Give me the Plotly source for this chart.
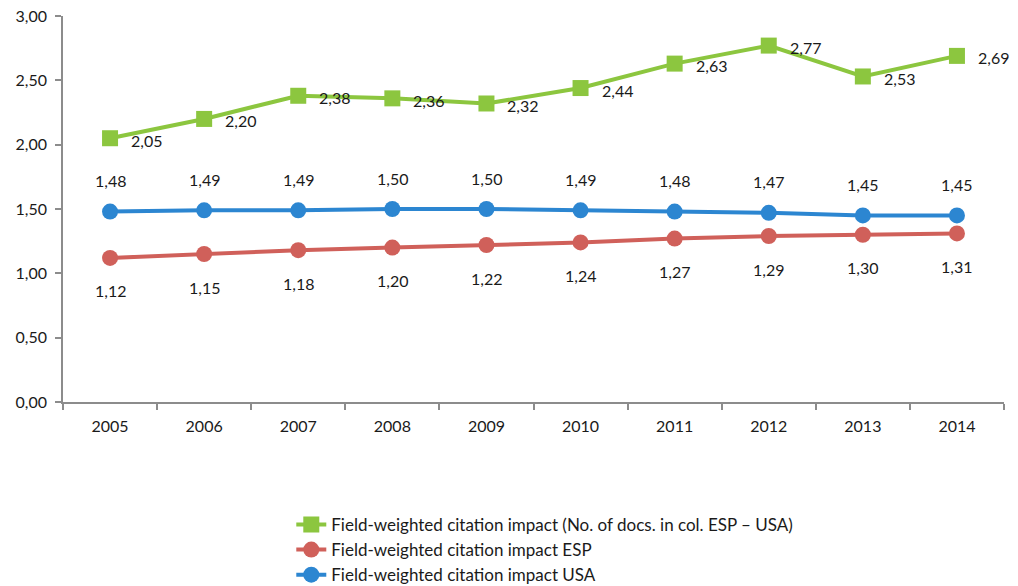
import plotly.graph_objects as go

years = ["2005", "2006", "2007", "2008", "2009", "2010", "2011", "2012", "2013", "2014"]
fwci_ratio = [2.05, 2.20, 2.38, 2.36, 2.32, 2.44, 2.63, 2.77, 2.53, 2.69]
fwci_esp = [1.12, 1.15, 1.18, 1.20, 1.22, 1.24, 1.27, 1.29, 1.30, 1.31]
fwci_usa = [1.48, 1.49, 1.49, 1.50, 1.50, 1.49, 1.48, 1.47, 1.45, 1.45]

names = [
    "Field-weighted citation impact (No. of docs. in col. ESP \u2013 USA)",
    "Field-weighted citation impact ESP",
    "Field-weighted citation impact USA",
]

GREEN = "#8cc63f"
RED = "#d0605a"
BLUE = "#2c86d1"
FONT = "Lato"
TEXT = "#1a1a1a"


def fmt(v):
    return f"{v:.2f}".replace(".", ",")


fig = go.Figure()
fig.add_trace(go.Scatter(
    x=years, y=fwci_ratio, name=names[0], mode="lines+markers",
    line=dict(color=GREEN, width=4),
    marker=dict(symbol="square", size=16, color=GREEN),
    legendgroup="a",
))
fig.add_trace(go.Scatter(
    x=years, y=fwci_esp, name=names[1], mode="lines+markers",
    line=dict(color=RED, width=4),
    marker=dict(symbol="circle", size=16, color=RED),
    legendgroup="b",
))
fig.add_trace(go.Scatter(
    x=years, y=fwci_usa, name=names[2], mode="lines+markers",
    line=dict(color=BLUE, width=4),
    marker=dict(symbol="circle", size=16, color=BLUE),
    legendgroup="c",
))

# value labels; x is the category's serial index on the category axis
label_font = dict(family=FONT, size=16, color=TEXT)
annotations = []
for i, v in enumerate(fwci_ratio):
    annotations.append(dict(x=i, y=v, text=fmt(v), showarrow=False,
                            xanchor="left", xshift=19, yshift=-2, font=label_font))
for i, v in enumerate(fwci_usa):
    annotations.append(dict(x=i, y=v, text=fmt(v), showarrow=False,
                            yshift=31, font=label_font))
for i, v in enumerate(fwci_esp):
    annotations.append(dict(x=i, y=v, text=fmt(v), showarrow=False,
                            yshift=-33, font=label_font))

axis_common = dict(
    showline=True, linecolor="#8c8c8c", linewidth=1.5,
    ticks="outside", tickcolor="#8c8c8c", ticklen=6, tickwidth=1.5,
    showgrid=False, zeroline=False, automargin=False,
    tickfont=dict(family=FONT, size=16, color=TEXT),
)

fig.update_layout(
    width=1018, height=586,
    margin=dict(l=63, r=14, t=16, b=184, autoexpand=False),
    paper_bgcolor="white", plot_bgcolor="white",
    separators=",.",
    showlegend=True,
    legend=dict(
        x=0.512, xanchor="center", yref="container", y=0.135, yanchor="top",
        font=dict(family=FONT, size=17, color=TEXT),
        tracegroupgap=10, traceorder="normal",
        bgcolor="rgba(0,0,0,0)",
    ),
    annotations=annotations,
    xaxis=dict(type="category", tickson="boundaries", range=[-0.5, 9.5],
               tickangle=0, ticklabelstandoff=9, **axis_common),
    yaxis=dict(range=[0, 3], dtick=0.5, tickformat=".2f",
               ticklabelstandoff=5, **axis_common),
)

fig.write_html("out.html")
